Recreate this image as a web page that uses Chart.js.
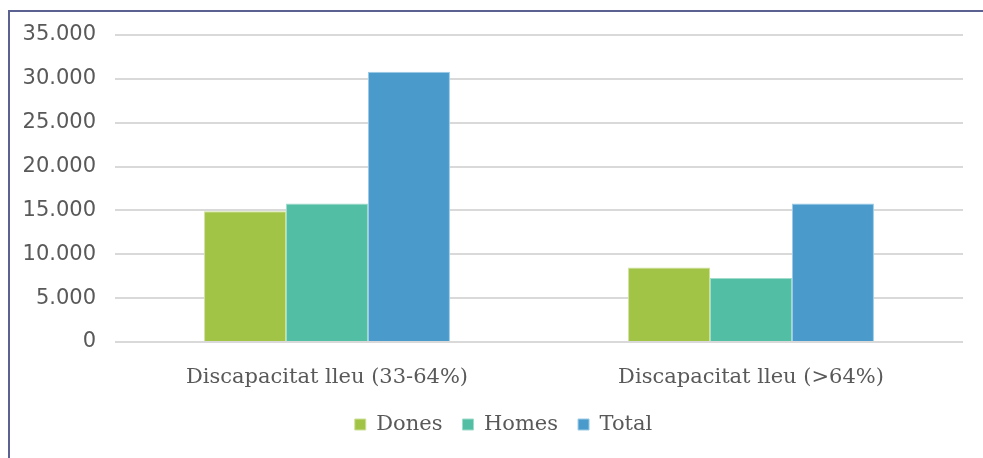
<!DOCTYPE html>
<html>
<head>
<meta charset="utf-8">
<script src="https://cdn.jsdelivr.net/npm/chart.js@4/dist/chart.umd.min.js"></script>
<style>
  html, body { margin: 0; padding: 0; background: #ffffff; overflow: hidden; }
  #wrap { position: absolute; left: 0; top: 0; width: 983px; height: 458px; }
</style>
</head>
<body>
<div id="wrap"><canvas id="chart" width="983" height="458"></canvas></div>
<script>
const categories = ["Discapacitat lleu (33-64%)", "Discapacitat lleu (>64%)"];
const dones = [14900, 8500];
const homes = [15800, 7300];
const total = [30800, 15800];
const yTicks = [0, 5000, 10000, 15000, 20000, 25000, 30000, 35000];

const tickColor = "#595959";
const serif = "'DejaVu Serif', 'Liberation Serif', serif";
const sans = "'DejaVu Sans', 'Liberation Sans', sans-serif";

function fmt(v) {
  return v === 0 ? "0" : v.toLocaleString("de-DE");
}

// outer frame: only the left and top edges show in the picture
const frame = {
  id: "frame",
  beforeDraw(chart) {
    const ctx = chart.ctx;
    ctx.save();
    ctx.strokeStyle = "#5b6190";
    ctx.lineWidth = 2;
    ctx.beginPath();
    ctx.moveTo(9, chart.height + 5);
    ctx.lineTo(9, 11);
    ctx.lineTo(chart.width + 5, 11);
    ctx.stroke();
    ctx.restore();
  },
  // legend sits a bit right of the canvas centre
  afterLayout(chart) {
    if (chart.legend) {
      chart.legend.left += 22;
      chart.legend.right += 22;
    }
  },
};

new Chart(document.getElementById("chart"), {
  type: "bar",
  data: {
    labels: categories,
    datasets: [
      { label: "Dones", data: dones, backgroundColor: "#a1c346", borderColor: "#cfe19a", borderWidth: 1 },
      { label: "Homes", data: homes, backgroundColor: "#52bea3", borderColor: "#9fdccb", borderWidth: 1 },
      { label: "Total", data: total, backgroundColor: "#4a9bcc", borderColor: "#9ccbe6", borderWidth: 1 },
    ],
  },
  plugins: [frame],
  options: {
    responsive: false,
    animation: false,
    layout: { padding: { left: 0, right: 20, top: 35, bottom: 13 } },
    datasets: { bar: { barPercentage: 1, categoryPercentage: 0.58 } },
    plugins: {
      tooltip: { enabled: false },
      legend: {
        position: "bottom",
        labels: {
          color: tickColor,
          font: { family: serif, size: 21 },
          boxWidth: 11,
          boxHeight: 11,
          padding: 20,
          useBorderRadius: false,
        },
      },
    },
    scales: {
      x: {
        grid: { display: false },
        border: { display: false },
        ticks: { color: tickColor, font: { family: serif, size: 21 }, padding: 15 },
        afterFit: (s) => { s.height = 52; },
      },
      y: {
        min: 0,
        max: 35000,
        afterBuildTicks: (s) => { s.ticks = yTicks.map((v) => ({ value: v })); },
        grid: { color: "#d9d9d9", lineWidth: 2, drawTicks: false },
        border: { display: false },
        ticks: { color: tickColor, font: { family: sans, size: 21 }, padding: 19, callback: (v) => fmt(v) },
        afterFit: (s) => { s.width = 115; },
      },
    },
  },
});
</script>
</body>
</html>
